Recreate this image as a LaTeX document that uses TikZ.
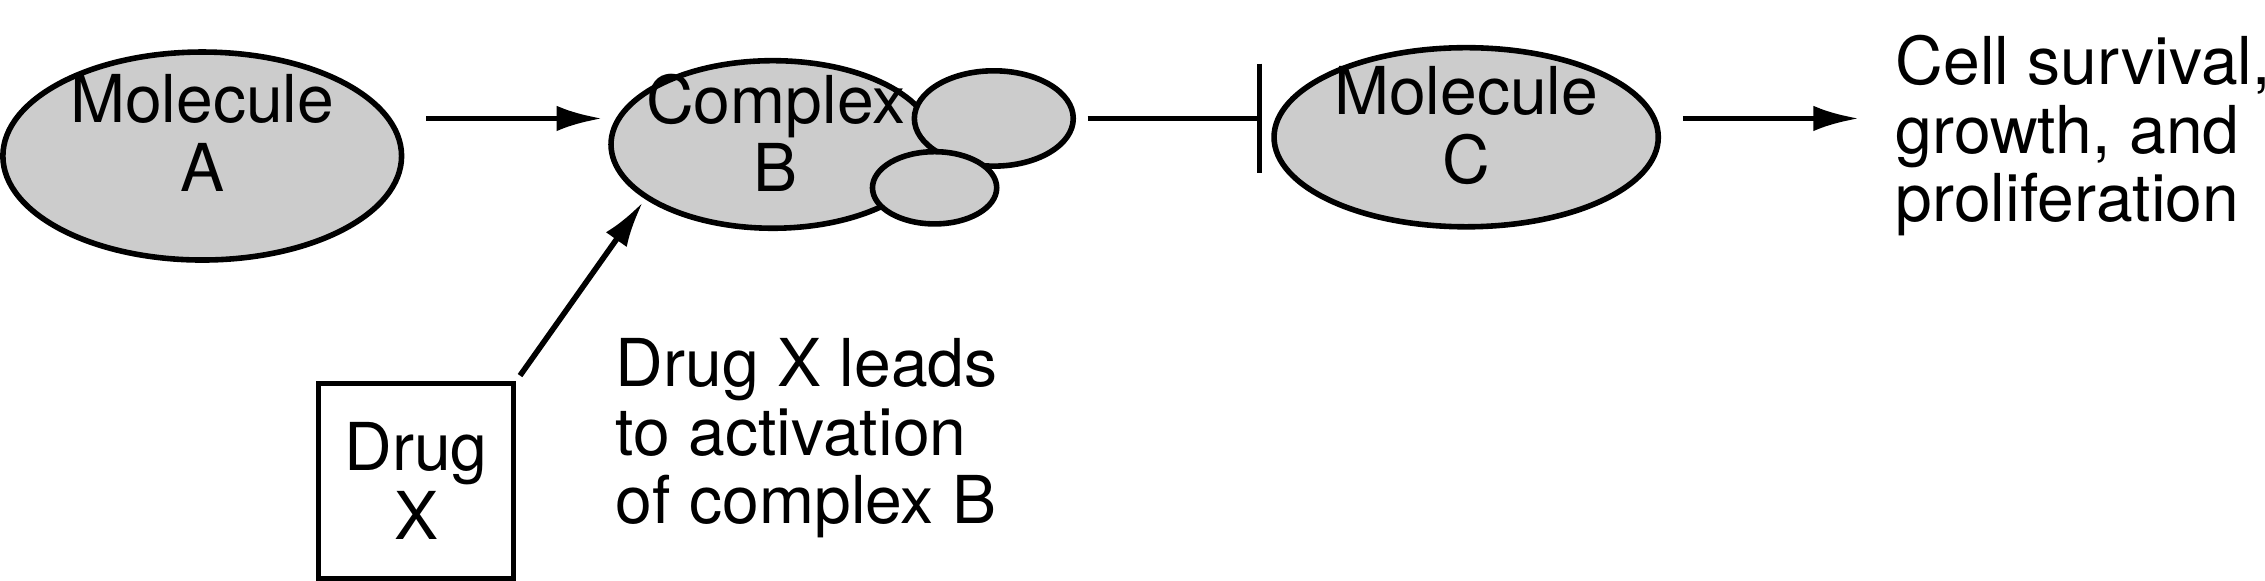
\documentclass[tikz,border=0pt]{standalone}
\usepackage{fontspec}
\setmainfont{TeX Gyre Heros}
\usetikzlibrary{arrows.meta}
\tikzset{
  mol/.style={draw, line width=1.1pt, fill=black!20},
  lbl/.style={font=\fontsize{13}{13.5}\selectfont, align=center},
  arr/.style={line width=1.1pt, -{Latex[length=9pt,width=5pt]}}
}
\begin{document}
\begin{tikzpicture}[x=0.01cm,y=-0.01cm]
\useasboundingbox (0,0) rectangle (1568,402);
% molecules
\draw[mol] (140,108) ellipse (138 and 72);
\node[lbl] (a) at (140,92) {Molecule\\A};
\draw[mol] (535,100) ellipse (112 and 58);
\draw[mol] (688,82) ellipse (55 and 33);
\draw[mol] (647,130) ellipse (43 and 25);
\node[lbl] (b) at (537,92) {Complex\\B};
\draw[mol] (1015,95) ellipse (133 and 62);
\node[lbl] (c) at (1015,87) {Molecule\\C};
\node[lbl, align=left, anchor=north west] (out) at (1300,12) {Cell survival,\\growth, and\\proliferation};
% drug
\node[draw, line width=1.1pt, minimum width=1.35cm, minimum height=1.35cm, lbl] (x) at (288,333) {Drug\\X};
\node[lbl, align=left, anchor=north west] (note) at (414,222) {Drug X leads\\to activation\\of complex B};
% connectors
\coordinate (a1) at (295,82); \coordinate (b1) at (417,82);
\draw[arr] (a1) -- (b1);
\coordinate (b2) at (753,82); \coordinate (c1) at (872,82);
\draw[line width=1.1pt] (b2) -- (c1);
\draw[line width=1.1pt] (872,44) -- (872,120);
\coordinate (c2) at (1165,82); \coordinate (o1) at (1287,82);
\draw[arr] (c2) -- (o1);
\coordinate (x1) at (360,260); \coordinate (b3) at (445,140);
\draw[arr, dash pattern=on 34pt off 12pt] (x1) -- (b3);
\end{tikzpicture}
\end{document}
